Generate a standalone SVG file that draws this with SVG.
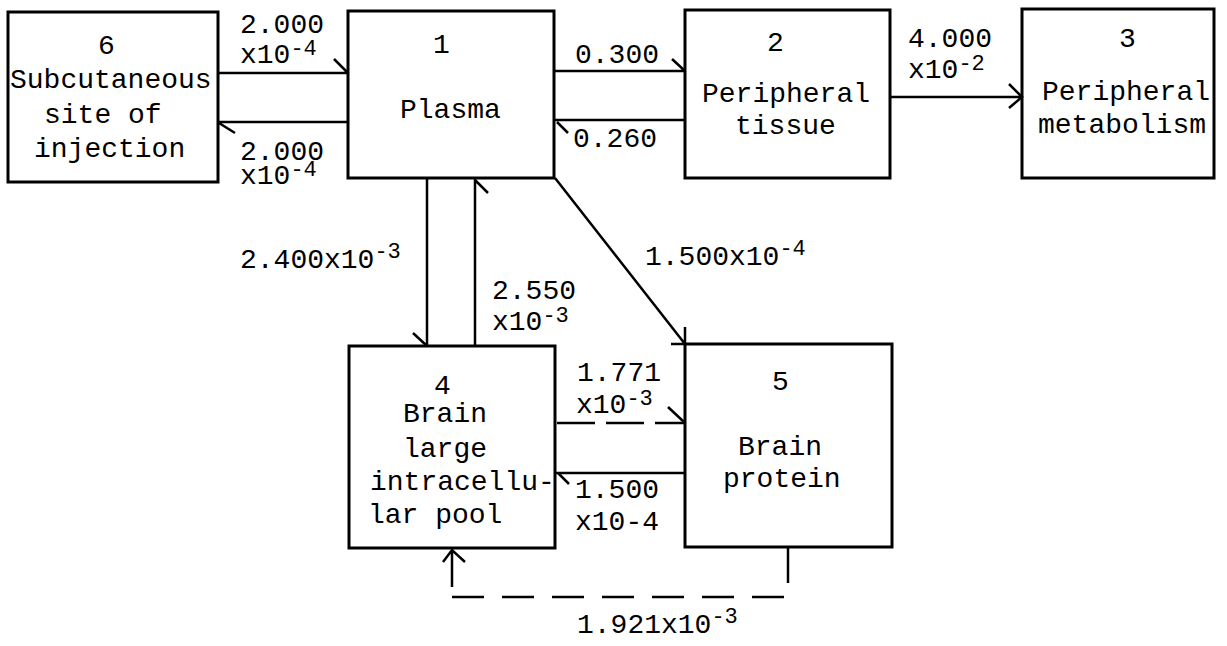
<svg xmlns="http://www.w3.org/2000/svg" width="1227" height="646" viewBox="0 0 1227 646">
  <style>
    .box { fill: #ffffff; stroke: #000000; stroke-width: 3; }
    .ln { fill: none; stroke: #000000; stroke-width: 2.5; stroke-linecap: butt; }
    .dash { stroke-dasharray: 38 11; }
    .fb { stroke-dasharray: 32 18; }
    .t { font-family: "Liberation Mono", "DejaVu Sans Mono", monospace; font-size: 28px; fill: #000000; }
    .sup { font-size: 22px; }
  </style>
  <rect width="1227" height="646" fill="#ffffff"/>

  <!-- compartments -->
  <g id="node-6">
    <rect class="box" x="8" y="12" width="210" height="170"/>
    <text class="t" x="98" y="54">6</text>
    <text class="t" x="10" y="88">Subcutaneous</text>
    <text class="t" x="44" y="123">site of</text>
    <text class="t" x="34" y="157">injection</text>
  </g>
  <g id="node-1">
    <rect class="box" x="348" y="11" width="206" height="167"/>
    <text class="t" x="433" y="53">1</text>
    <text class="t" x="400" y="118">Plasma</text>
  </g>
  <g id="node-2">
    <rect class="box" x="685" y="10" width="205" height="168"/>
    <text class="t" x="767" y="51">2</text>
    <text class="t" x="702" y="102">Peripheral</text>
    <text class="t" x="735" y="134">tissue</text>
  </g>
  <g id="node-3">
    <rect class="box" x="1022" y="9" width="192" height="169"/>
    <text class="t" x="1119" y="47">3</text>
    <text class="t" x="1042" y="100">Peripheral</text>
    <text class="t" x="1038" y="133">metabolism</text>
  </g>
  <g id="node-4">
    <rect class="box" x="349" y="346" width="206" height="202"/>
    <text class="t" x="434" y="394">4</text>
    <text class="t" x="403" y="422">Brain</text>
    <text class="t" x="403" y="457">large</text>
    <text class="t" x="370" y="490">intracellu-</text>
    <text class="t" x="368" y="523">lar pool</text>
  </g>
  <g id="node-5">
    <rect class="box" x="685" y="344" width="207" height="203"/>
    <text class="t" x="772" y="390">5</text>
    <text class="t" x="738" y="455">Brain</text>
    <text class="t" x="723" y="487">protein</text>
  </g>

  <!-- transfer pathways with rate constants -->
  <g id="connectors">
    <!-- 6 -> 1 -->
    <path class="ln" d="M218 73 H348 M334 59 L347 72"/>
    <!-- 1 -> 6 -->
    <path class="ln" d="M348 122 H218 M219 123 L235 133"/>
    <!-- 1 -> 2 -->
    <path class="ln" d="M554 71 H685 M672 59 L685 71"/>
    <!-- 2 -> 1 -->
    <path class="ln" d="M685 120 H554 M557 122 L568 133"/>
    <!-- 2 -> 3 -->
    <path class="ln" d="M890 97 H1022 M1009 84 L1022 97 L1009 108"/>
    <!-- 1 -> 4 -->
    <path class="ln" d="M427 178 V346 M413 333 L427 346"/>
    <!-- 4 -> 1 -->
    <path class="ln" d="M475 346 V178 M475 180 L488 193"/>
    <!-- 1 -> 5 -->
    <path class="ln" d="M555 178 L685 344 M685 327 V344 M671 344 H685"/>
    <!-- 4 -> 5 (dashed) -->
    <path class="ln dash" d="M557 423 H684"/>
    <path class="ln" d="M668 407 L684 422"/>
    <!-- 5 -> 4 -->
    <path class="ln" d="M685 473 H555 M558 473 L569 484"/>
    <!-- 5 -> 4 return (dashed) -->
    <path class="ln" d="M788 547 V583"/>
    <path class="ln fb" d="M452 597 H788"/>
    <path class="ln" d="M452 587 V550 M443 562 L452 550 L465 562"/>

    <!-- rate constants -->
    <text class="t" x="240" y="33">2.000</text>
    <text class="t" x="240" y="63">x10<tspan class="sup" dy="-8">-4</tspan></text>
    <text class="t" x="240" y="160">2.000</text>
    <text class="t" x="240" y="184">x10<tspan class="sup" dy="-8">-4</tspan></text>
    <text class="t" x="575" y="63">0.300</text>
    <text class="t" x="573" y="147">0.260</text>
    <text class="t" x="908" y="47">4.000</text>
    <text class="t" x="908" y="78">x10<tspan class="sup" dy="-8">-2</tspan></text>
    <text class="t" x="240" y="268">2.400x10<tspan class="sup" dy="-10">-3</tspan></text>
    <text class="t" x="492" y="299">2.550</text>
    <text class="t" x="492" y="330">x10<tspan class="sup" dy="-8">-3</tspan></text>
    <text class="t" x="645" y="265">1.500x10<tspan class="sup" dy="-10">-4</tspan></text>
    <text class="t" x="577" y="381">1.771</text>
    <text class="t" x="576" y="413">x10<tspan class="sup" dy="-8">-3</tspan></text>
    <text class="t" x="575" y="498">1.500</text>
    <text class="t" x="575" y="530">x10-4</text>
    <text class="t" x="577" y="633">1.921x10<tspan class="sup" dy="-10">-3</tspan></text>
  </g>
</svg>
